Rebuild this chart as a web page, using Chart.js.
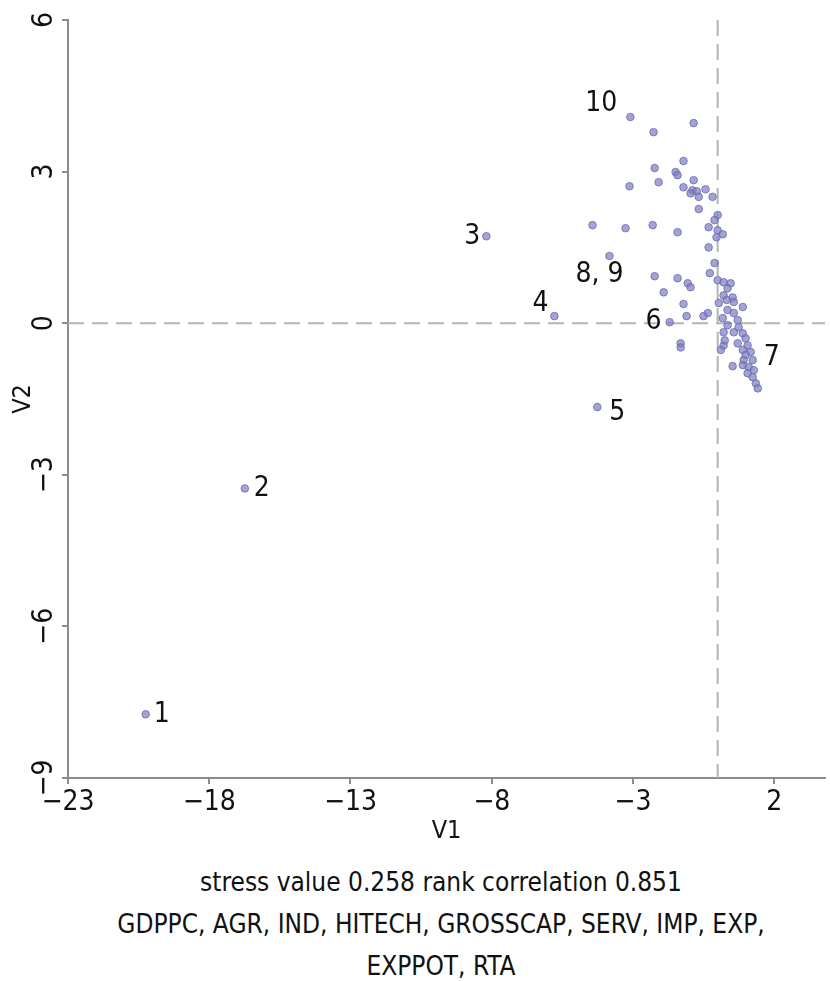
<!DOCTYPE html>
<html>
<head>
<meta charset="utf-8">
<script src="https://cdn.jsdelivr.net/npm/chart.js@4.4.1/dist/chart.umd.min.js"></script>
<style>
  html,body{margin:0;background:#fff;overflow:hidden;}
  #wrap{width:830px;height:850px;position:relative;}
  .cap{width:830px;padding-left:52px;box-sizing:border-box;text-align:center;font-family:'Liberation Sans Narrow','DejaVu Sans Condensed',sans-serif;font-size:26px;color:#111;line-height:42px;}
</style>
</head>
<body>
<div id="wrap"><canvas id="cv"></canvas></div>
<div class="cap" style="margin-top:11px">stress value 0.258 rank correlation 0.851</div>
<div class="cap">GDPPC, AGR, IND, HITECH, GROSSCAP, SERV, IMP, EXP,<br>EXPPOT, RTA</div>

<script>
// ---- data ----
var xTicks = [-23, -18, -13, -8, -3, 2];
var yTicks = [-9, -6, -3, 0, 3, 6];

// labelled points
var labelNames = ['1', '2', '3', '4', '5', '6', '7', '8, 9', '10'];
var labelX = [-20.25, -16.74, -8.19, -5.78, -4.26, -1.70, 1.17, -3.83, -3.09];
var labelY = [-7.74, -3.27, 1.72, 0.14, -1.66, 0.02, -0.57, 1.33, 4.08];

// the rest of the cloud
var V1 = [-0.85, -2.27, -1.21, -2.23, -1.49, -1.42, -0.85, -2.09, -3.12, -1.21,
  -0.89, -0.74, -0.43, -0.96, -0.67, -0.18, -0.67, 0.00, -0.11, -4.43,
  -3.26, -2.30, -1.42, -0.32, 0.00, 0.18, -0.04, -0.32, -0.11, -0.28,
  -2.23, -1.42, -1.06, -0.96, -1.91, 0.00, 0.21, 0.46, 0.35, 0.21,
  0.53, 0.57, 0.89, -1.21, 0.35, 0.57, -0.35, -0.50, -1.10, 0.18,
  0.71, 0.35, 0.74, 0.21, 0.57, 0.89, 0.99, -1.31, 0.21, 0.71,
  1.06, 0.89, 0.11, 0.99, 0.92, 1.24, 0.53, 0.89, 1.10, 1.28,
  1.06, 1.24, 1.35, 1.42, -1.31, 0.04, 0.32, 0.25];
var V2 = [3.96, 3.78, 3.21, 3.07, 2.99, 2.93, 2.83, 2.79, 2.71, 2.69,
  2.63, 2.61, 2.65, 2.57, 2.50, 2.50, 2.26, 2.14, 2.04, 1.94,
  1.88, 1.94, 1.80, 1.90, 1.84, 1.76, 1.70, 1.50, 1.19, 0.99,
  0.93, 0.89, 0.79, 0.71, 0.61, 0.85, 0.81, 0.79, 0.69, 0.55,
  0.51, 0.42, 0.32, 0.38, 0.26, 0.20, 0.20, 0.14, 0.14, 0.10,
  0.06, -0.04, -0.08, -0.18, -0.18, -0.20, -0.30, -0.40, -0.44, -0.40,
  -0.44, -0.53, -0.53, -0.63, -0.73, -0.73, -0.85, -0.83, -0.87, -0.93,
  -0.99, -1.07, -1.19, -1.29, -0.48, 0.40, 0.46, -0.34];

// label offsets in px [dx, dy, align]
var labelOffsets = [[8, 0, 'left'], [9, 0, 'left'], [-6, 0, 'right'], [-6, -12, 'right'],
  [12, 6, 'left'], [-8, 0, 'right'], [13, 6, 'left'], [-10, 19, 'center'], [-13, -13, 'right']];

var FONT = "'Liberation Sans Narrow','DejaVu Sans Condensed',sans-serif";
var AXIS = '#8c8c8c';

function minus(v){ return v < 0 ? '\u2212' + Math.abs(v) : '' + v; }

var pts = [];
for (var i = 0; i < labelX.length; i++) pts.push({x: labelX[i], y: labelY[i]});
for (var j = 0; j < V1.length; j++) pts.push({x: V1[j], y: V2[j]});

// dashed zero lines, rotated y tick labels, number labels
var extras = {
  id: 'extras',
  beforeDatasetsDraw: function(chart){
    var c = chart.ctx, a = chart.chartArea;
    var sx = chart.scales.x, sy = chart.scales.y;
    var px = sx.getPixelForValue(0), py = sy.getPixelForValue(0);
    c.save();
    c.strokeStyle = '#b4b4b4';
    c.lineWidth = 2;
    c.setLineDash([16, 8]);
    c.beginPath();
    c.moveTo(a.left, py); c.lineTo(a.right, py);
    c.moveTo(px, a.top); c.lineTo(px, a.bottom);
    c.stroke();
    c.restore();

    c.save();
    c.font = '28px ' + FONT;
    c.fillStyle = '#111';
    c.textAlign = 'center';
    c.textBaseline = 'middle';
    yTicks.forEach(function(v){
      c.save();
      c.translate(45, sy.getPixelForValue(v));
      c.rotate(-Math.PI / 2);
      c.fillText(minus(v), 0, 0);
      c.restore();
    });
    c.restore();
  },
  afterDatasetsDraw: function(chart){
    var c = chart.ctx;
    var sx = chart.scales.x, sy = chart.scales.y;
    c.save();
    c.font = '28px ' + FONT;
    c.fillStyle = '#111';
    c.textBaseline = 'middle';
    labelNames.forEach(function(n, k){
      var o = labelOffsets[k];
      c.textAlign = o[2];
      c.fillText(n, sx.getPixelForValue(labelX[k]) + o[0], sy.getPixelForValue(labelY[k]) + o[1]);
    });
    c.restore();
  }
};

var chart = new Chart(document.getElementById('cv'), {
  type: 'scatter',
  data: {
    datasets: [{
      data: pts,
      pointRadius: 3.8,
      pointBackgroundColor: 'rgba(128,128,196,0.72)',
      pointBorderColor: 'rgba(100,100,170,0.75)',
      pointBorderWidth: 1
    }]
  },
  options: {
    responsive: true,
    maintainAspectRatio: false,
    animation: false,
    layout: {padding: {top: 20, right: 1, left: 8, bottom: 0}},
    plugins: {legend: {display: false}, tooltip: {enabled: false}},
    scales: {
      x: {
        type: 'linear', min: -23, max: 3.8,
        afterBuildTicks: function(s){ s.ticks = xTicks.map(function(v){ return {value: v}; }); },
        afterFit: function(s){ s.height = 72; s.paddingRight = 0; s.paddingLeft = 0; },
        border: {color: AXIS, width: 2},
        grid: {drawOnChartArea: false, color: AXIS, lineWidth: 2, tickLength: 6},
        ticks: {color: '#111', font: {family: FONT, size: 28}, padding: 2, callback: minus, maxRotation: 0},
        title: {display: true, text: 'V1', color: '#111', font: {family: FONT, size: 25}, padding: {top: 0}}
      },
      y: {
        type: 'linear', min: -9, max: 6,
        afterBuildTicks: function(s){ s.ticks = yTicks.map(function(v){ return {value: v}; }); },
        afterFit: function(s){ s.width = 60; s.paddingTop = 0; s.paddingBottom = 0; },
        border: {color: AXIS, width: 2},
        grid: {drawOnChartArea: false, color: AXIS, lineWidth: 2, tickLength: 6},
        ticks: {display: false},
        title: {display: true, text: 'V2', color: '#111', font: {family: FONT, size: 25}, padding: 0}
      }
    }
  },
  plugins: [extras]
});
</script>
</body>
</html>
